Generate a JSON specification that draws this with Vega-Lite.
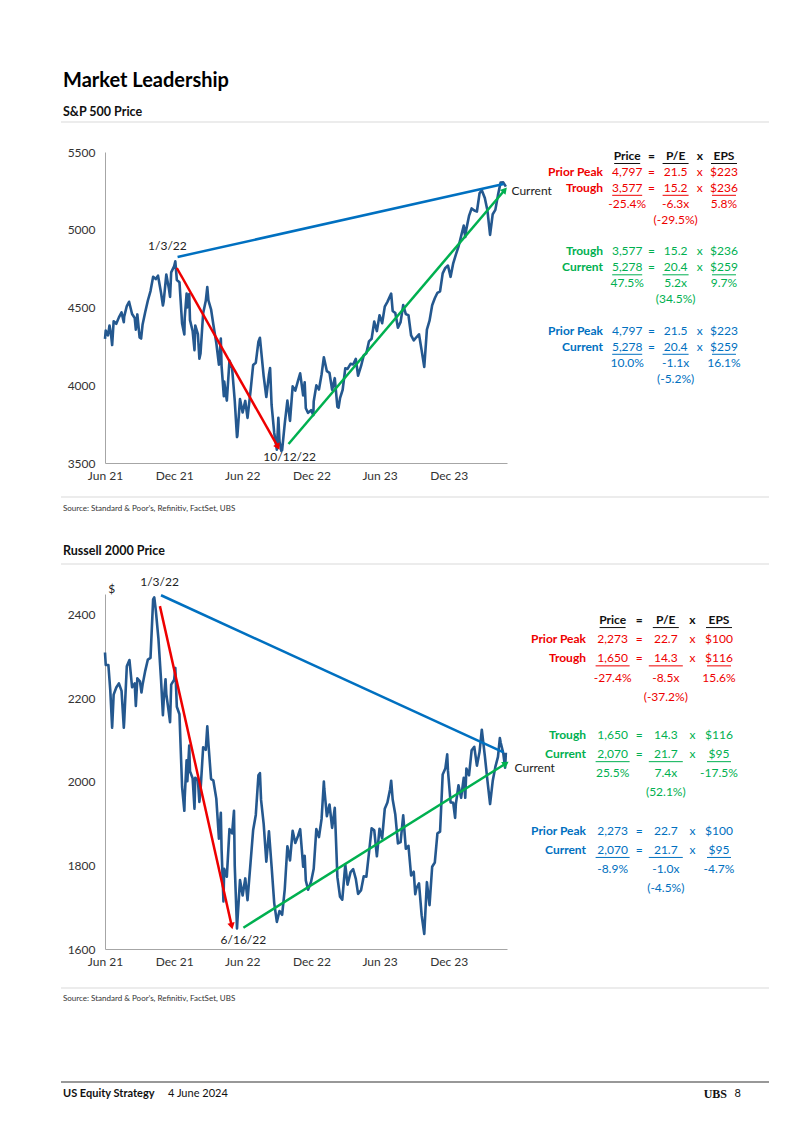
{
  "$schema": "https://vega.github.io/schema/vega-lite/v6.json",
  "background": "white",
  "padding": {"left": 60, "top": 70, "right": 34, "bottom": 20},
  "autosize": {"type": "pad"},
  "title": {"text": "Market Leadership", "anchor": "start", "frame": "group", "dx": -42, "fontSize": 20, "fontWeight": "bold", "font": "Lato", "color": "#000000", "offset": 15},
  "columns": 2,
  "spacing": {"row": 30, "column": 79},
  "align": "each",
  "bounds": "flush",
  "resolve": {"scale": {"color": "independent"}},
  "concat": [
    {
      "width": 402, "height": 1,
      "title": {"text": "S&P 500 Price", "anchor": "start", "frame": "group", "dx": -42, "fontSize": 12.5, "fontWeight": "bold", "font": "Lato", "color": "#111111", "offset": 3},
      "data": {"values": [{}]},
      "mark": {"type": "rule", "color": "#d9d9d9", "strokeWidth": 1, "xOffset": -44, "x2Offset": 262},
      "encoding": {
        "x": {"datum": 0, "type": "quantitative", "scale": {"domain": [0, 1]}, "axis": null},
        "x2": {"datum": 1},
        "y": {"datum": 0, "type": "quantitative", "scale": {"domain": [0, 1]}, "axis": null}
      }
    },
    {
      "width": 1, "height": 1,
      "data": {"values": [{}]},
      "mark": {"type": "text"},
      "encoding": {"text": {"value": ""}}
    },
    {
      "width": 402, "height": 311,
      "encoding": {
        "x": {"field": "date", "type": "temporal", "title": null,
              "scale": {"domain": [{"year": 2021, "month": 6, "date": 30}, {"year": 2024, "month": 6, "date": 3}]},
              "axis": {"values": [{"year": 2021, "month": 6, "date": 30}, {"year": 2021, "month": 12, "date": 31}, {"year": 2022, "month": 6, "date": 30}, {"year": 2022, "month": 12, "date": 31}, {"year": 2023, "month": 6, "date": 30}, {"year": 2023, "month": 12, "date": 31}],
                       "format": "%b %y", "labelFlush": false, "labelPadding": 7, "ticks": false, "grid": false, "domainColor": "#a6a6a6", "labelColor": "#333333", "labelFontSize": 12, "labelFont": "Lato"}},
        "y": {"field": "value", "type": "quantitative", "title": null,
              "scale": {"domain": [3500, 5500], "nice": false, "zero": false},
              "axis": {"values": [3500, 4000, 4500, 5000, 5500], "format": "d", "labelPadding": 10, "ticks": false, "grid": false, "domainColor": "#a6a6a6", "labelColor": "#333333", "labelFontSize": 12, "labelFont": "Lato"}}
      },
      "layer": [
        {"data": {"name": "sp"}, "mark": {"type": "line", "color": "#24588f", "strokeWidth": 2.6, "strokeJoin": "round"}},
        {"data": {"name": "sp_ann"}, "mark": {"type": "line", "strokeWidth": 2.5},
         "encoding": {"detail": {"field": "seg"}, "color": {"field": "seg", "type": "nominal", "scale": {"domain": ["hdr", "pt", "tc", "pc"], "range": ["#111111", "#ee0000", "#00b050", "#0070c0"]}, "legend": null}}},
        {"data": {"name": "sp_ann"}, "transform": [{"filter": "datum.seg === 'pt' && datum.point === 'end'"}],
         "mark": {"type": "point", "shape": "triangle-up", "angle": 150.6, "size": 55, "filled": true, "opacity": 1, "color": "#ee0000"}},
        {"data": {"name": "sp_ann"}, "transform": [{"filter": "datum.seg === 'tc' && datum.point === 'end'"}],
         "mark": {"type": "point", "shape": "triangle-up", "angle": 40.4, "size": 55, "filled": true, "opacity": 1, "color": "#00b050"}},
        {"data": {"name": "sp_lbl"}, "transform": [{"filter": "datum.label !== 'Current'"}],
         "mark": {"type": "text", "align": "center", "baseline": "middle", "fontSize": 12, "font": "Lato", "color": "#222222"},
         "encoding": {"text": {"field": "label"}}},
        {"data": {"name": "sp_lbl"}, "transform": [{"filter": "datum.label === 'Current'"}],
         "mark": {"type": "text", "align": "left", "baseline": "middle", "fontSize": 12, "font": "Lato", "color": "#222222"},
         "encoding": {"text": {"field": "label"}}}
      ]
    },
    {
      "width": 155, "height": 315,
      "data": {"name": "sp_tbl"},
      "encoding": {
        "x": {"field": "col", "type": "nominal", "scale": {"type": "point", "domain": ["label", "price", "eq", "pe", "x", "eps"], "padding": 0.7025}, "axis": null},
        "y": {"field": "row", "type": "ordinal", "scale": {"type": "point", "domain": [0, 1, 2, 3, 4, 5, 6, 7, 8, 9, 10, 11, 12, 13, 14, 15, 16, 17, 18, 19], "padding": 0.406, "align": 0.31}, "axis": null},
        "color": {"field": "grp", "type": "nominal", "scale": {"domain": ["hdr", "pt", "tc", "pc"], "range": ["#111111", "#ee0000", "#00b050", "#0070c0"]}, "legend": null}
      },
      "layer": [
        {"transform": [{"filter": "datum.col === 'label'"}],
         "mark": {"type": "text", "align": "right", "baseline": "middle", "fontSize": 12, "fontWeight": "bold", "font": "Lato"},
         "encoding": {"text": {"field": "text"}}},
        {"transform": [{"filter": "datum.row === 0"}],
         "mark": {"type": "text", "align": "center", "baseline": "middle", "fontSize": 12, "fontWeight": "bold", "font": "Lato"},
         "encoding": {"text": {"field": "text"}}},
        {"transform": [{"filter": "datum.row > 0 && datum.col !== 'label'"}],
         "mark": {"type": "text", "align": "center", "baseline": "middle", "fontSize": 12, "font": "Lato"},
         "encoding": {"text": {"field": "text"}}},
        {"data": {"name": "sp_ul"}, "transform": [{"filter": "datum.row === 0"}],
         "mark": {"type": "rule", "strokeWidth": 1, "xOffset": -13, "x2Offset": 13, "yOffset": 7.5},
         "encoding": {"x2": {"field": "col"}}},
        {"data": {"name": "sp_ul"}, "transform": [{"filter": "datum.row > 0 && datum.col === 'price'"}],
         "mark": {"type": "rule", "strokeWidth": 1, "xOffset": -15, "x2Offset": 15, "yOffset": 7.5},
         "encoding": {"x2": {"field": "col"}}},
        {"data": {"name": "sp_ul"}, "transform": [{"filter": "datum.row > 0 && datum.col === 'pe'"}],
         "mark": {"type": "rule", "strokeWidth": 1, "xOffset": -13, "x2Offset": 13, "yOffset": 7.5},
         "encoding": {"x2": {"field": "col"}}},
        {"data": {"name": "sp_ul"}, "transform": [{"filter": "datum.row > 0 && datum.col === 'eps'"}],
         "mark": {"type": "rule", "strokeWidth": 1, "xOffset": -12, "x2Offset": 12, "yOffset": 7.5},
         "encoding": {"x2": {"field": "col"}}}
      ]
    },
    {
      "width": 402, "height": 67,
      "data": {"values": [{}]},
      "encoding": {
        "x": {"datum": 0, "type": "quantitative", "scale": {"domain": [0, 1]}, "axis": null}
      },
      "layer": [
        {"mark": {"type": "rule", "color": "#d9d9d9", "strokeWidth": 1, "xOffset": -44, "x2Offset": 262},
         "encoding": {"x2": {"datum": 1}, "y": {"datum": 1, "type": "quantitative", "scale": {"domain": [0, 1]}, "axis": null}}},
        {"mark": {"type": "rule", "color": "#d9d9d9", "strokeWidth": 1, "xOffset": -44, "x2Offset": 262},
         "encoding": {"x2": {"datum": 1}, "y": {"datum": 0, "type": "quantitative"}}},
        {"mark": {"type": "text", "align": "left", "baseline": "middle", "dx": -42, "dy": 12, "fontSize": 8, "font": "Lato", "color": "#333333"},
         "encoding": {"y": {"datum": 1, "type": "quantitative"}, "text": {"value": "Source: Standard & Poor’s, Refinitiv, FactSet, UBS"}}},
        {"mark": {"type": "text", "align": "left", "baseline": "middle", "dx": -42, "dy": -13, "fontSize": 12.5, "fontWeight": "bold", "font": "Lato", "color": "#111111"},
         "encoding": {"y": {"datum": 0, "type": "quantitative"}, "text": {"value": "Russell 2000 Price"}}}
      ]
    },
    {
      "width": 1, "height": 1,
      "data": {"values": [{}]},
      "mark": {"type": "text"},
      "encoding": {"text": {"value": ""}}
    },
    {
      "width": 402, "height": 355,
      "encoding": {
        "x": {"field": "date", "type": "temporal", "title": null,
              "scale": {"domain": [{"year": 2021, "month": 6, "date": 30}, {"year": 2024, "month": 6, "date": 3}]},
              "axis": {"values": [{"year": 2021, "month": 6, "date": 30}, {"year": 2021, "month": 12, "date": 31}, {"year": 2022, "month": 6, "date": 30}, {"year": 2022, "month": 12, "date": 31}, {"year": 2023, "month": 6, "date": 30}, {"year": 2023, "month": 12, "date": 31}],
                       "format": "%b %y", "labelFlush": false, "labelPadding": 7, "ticks": false, "grid": false, "domainColor": "#a6a6a6", "labelColor": "#333333", "labelFontSize": 12, "labelFont": "Lato"}},
        "y": {"field": "value", "type": "quantitative", "title": null,
              "scale": {"domain": [1600, 2450], "nice": false, "zero": false},
              "axis": {"values": [1600, 1800, 2000, 2200, 2400], "format": "d", "labelPadding": 10, "ticks": false, "grid": false, "domainColor": "#a6a6a6", "labelColor": "#333333", "labelFontSize": 12, "labelFont": "Lato"}}
      },
      "layer": [
        {"data": {"name": "rut"}, "mark": {"type": "line", "color": "#24588f", "strokeWidth": 2.6, "strokeJoin": "round"}},
        {"data": {"name": "rut_ann"}, "mark": {"type": "line", "strokeWidth": 2.5},
         "encoding": {"detail": {"field": "seg"}, "color": {"field": "seg", "type": "nominal", "scale": {"domain": ["hdr", "pt", "tc", "pc"], "range": ["#111111", "#ee0000", "#00b050", "#0070c0"]}, "legend": null}}},
        {"data": {"name": "rut_ann"}, "transform": [{"filter": "datum.seg === 'pt' && datum.point === 'end'"}],
         "mark": {"type": "point", "shape": "triangle-up", "angle": 167.4, "size": 55, "filled": true, "opacity": 1, "color": "#ee0000"}},
        {"data": {"name": "rut_ann"}, "transform": [{"filter": "datum.seg === 'tc' && datum.point === 'end'"}],
         "mark": {"type": "point", "shape": "triangle-up", "angle": 58, "size": 55, "filled": true, "opacity": 1, "color": "#00b050"}},
        {"data": {"name": "rut_lbl"}, "transform": [{"filter": "datum.label !== 'Current'"}],
         "mark": {"type": "text", "align": "center", "baseline": "middle", "fontSize": 12, "font": "Lato", "color": "#222222"},
         "encoding": {"text": {"field": "label"}}},
        {"data": {"name": "rut_lbl"}, "transform": [{"filter": "datum.label === 'Current'"}],
         "mark": {"type": "text", "align": "left", "baseline": "middle", "fontSize": 12, "font": "Lato", "color": "#222222"},
         "encoding": {"text": {"field": "label"}}}
      ]
    },
    {
      "width": 133, "height": 364,
      "data": {"name": "rut_tbl"},
      "encoding": {
        "x": {"field": "col", "type": "nominal", "scale": {"type": "point", "domain": ["label", "price", "eq", "pe", "x", "eps"], "padding": 0}, "axis": null},
        "y": {"field": "row", "type": "ordinal", "scale": {"type": "point", "domain": [0, 1, 2, 3, 4, 5, 6, 7, 8, 9, 10, 11, 12, 13, 14, 15, 16, 17], "padding": 1, "align": 0.68}, "axis": null},
        "color": {"field": "grp", "type": "nominal", "scale": {"domain": ["hdr", "pt", "tc", "pc"], "range": ["#111111", "#ee0000", "#00b050", "#0070c0"]}, "legend": null}
      },
      "layer": [
        {"transform": [{"filter": "datum.col === 'label'"}],
         "mark": {"type": "text", "align": "right", "baseline": "middle", "fontSize": 12, "fontWeight": "bold", "font": "Lato"},
         "encoding": {"text": {"field": "text"}}},
        {"transform": [{"filter": "datum.row === 0"}],
         "mark": {"type": "text", "align": "center", "baseline": "middle", "fontSize": 12, "fontWeight": "bold", "font": "Lato"},
         "encoding": {"text": {"field": "text"}}},
        {"transform": [{"filter": "datum.row > 0 && datum.col !== 'label'"}],
         "mark": {"type": "text", "align": "center", "baseline": "middle", "fontSize": 12, "font": "Lato"},
         "encoding": {"text": {"field": "text"}}},
        {"data": {"name": "rut_ul"}, "transform": [{"filter": "datum.row === 0"}],
         "mark": {"type": "rule", "strokeWidth": 1, "xOffset": -13, "x2Offset": 13, "yOffset": 7.5},
         "encoding": {"x2": {"field": "col"}}},
        {"data": {"name": "rut_ul"}, "transform": [{"filter": "datum.row > 0 && datum.col !== 'eps'"}],
         "mark": {"type": "rule", "strokeWidth": 1, "xOffset": -17, "x2Offset": 17, "yOffset": 7.5},
         "encoding": {"x2": {"field": "col"}}},
        {"data": {"name": "rut_ul"}, "transform": [{"filter": "datum.row > 0 && datum.col === 'eps'"}],
         "mark": {"type": "rule", "strokeWidth": 1, "xOffset": -12, "x2Offset": 12, "yOffset": 7.5},
         "encoding": {"x2": {"field": "col"}}}
      ]
    },
    {
      "width": 402, "height": 94,
      "data": {"values": [{}]},
      "encoding": {
        "x": {"datum": 0, "type": "quantitative", "scale": {"domain": [0, 1]}, "axis": null}
      },
      "layer": [
        {"mark": {"type": "rule", "color": "#d9d9d9", "strokeWidth": 1, "xOffset": -44, "x2Offset": 262},
         "encoding": {"x2": {"datum": 1}, "y": {"datum": 1, "type": "quantitative", "scale": {"domain": [0, 1]}, "axis": null}}},
        {"mark": {"type": "rule", "color": "#333333", "strokeWidth": 1.2, "xOffset": -44, "x2Offset": 262},
         "encoding": {"x2": {"datum": 1}, "y": {"datum": 0, "type": "quantitative"}}},
        {"mark": {"type": "text", "align": "left", "baseline": "middle", "dx": -42, "dy": 11, "fontSize": 8, "font": "Lato", "color": "#333333"},
         "encoding": {"y": {"datum": 1, "type": "quantitative"}, "text": {"value": "Source: Standard & Poor’s, Refinitiv, FactSet, UBS"}}},
        {"mark": {"type": "text", "align": "left", "baseline": "middle", "dx": -42, "dy": 12, "fontSize": 11, "fontWeight": "bold", "font": "Lato", "color": "#111111"},
         "encoding": {"y": {"datum": 0, "type": "quantitative"}, "text": {"value": "US Equity Strategy"}}},
        {"mark": {"type": "text", "align": "left", "baseline": "middle", "dx": 63, "dy": 12, "fontSize": 11, "font": "Lato", "color": "#111111"},
         "encoding": {"y": {"datum": 0, "type": "quantitative"}, "text": {"value": "4 June 2024"}}}
      ]
    },
    {
      "width": 155, "height": 94,
      "data": {"values": [{}]},
      "encoding": {
        "x": {"datum": 1, "type": "quantitative", "scale": {"domain": [0, 1]}, "axis": null},
        "y": {"datum": 0, "type": "quantitative", "scale": {"domain": [0, 1]}, "axis": null}
      },
      "layer": [
        {"mark": {"type": "text", "align": "right", "baseline": "middle", "dx": -14, "dy": 12, "fontSize": 12, "font": "Liberation Serif", "fontWeight": "bold", "color": "#111111"},
         "encoding": {"text": {"value": "UBS"}}},
        {"mark": {"type": "text", "align": "right", "baseline": "middle", "dx": 0, "dy": 12, "fontSize": 11, "font": "Lato", "color": "#111111"},
         "encoding": {"text": {"value": "8"}}}
      ]
    }
  ],
  "datasets": {
    "sp": [
      {"date": "2021-06-30", "value": 4297.5}, {"date": "2021-07-02", "value": 4352.3}, {"date": "2021-07-08", "value": 4320.8}, {"date": "2021-07-12", "value": 4384.6},
      {"date": "2021-07-16", "value": 4327.2}, {"date": "2021-07-19", "value": 4258.5}, {"date": "2021-07-23", "value": 4411.8}, {"date": "2021-07-30", "value": 4395.3},
      {"date": "2021-08-06", "value": 4436.5}, {"date": "2021-08-13", "value": 4468.0}, {"date": "2021-08-19", "value": 4405.8}, {"date": "2021-08-20", "value": 4441.7},
      {"date": "2021-08-27", "value": 4509.4}, {"date": "2021-09-02", "value": 4537.0}, {"date": "2021-09-10", "value": 4458.6}, {"date": "2021-09-17", "value": 4433.0},
      {"date": "2021-09-20", "value": 4357.7}, {"date": "2021-09-24", "value": 4455.5}, {"date": "2021-09-30", "value": 4307.5}, {"date": "2021-10-04", "value": 4300.5},
      {"date": "2021-10-08", "value": 4391.3}, {"date": "2021-10-15", "value": 4471.4}, {"date": "2021-10-22", "value": 4544.9}, {"date": "2021-10-29", "value": 4605.4},
      {"date": "2021-11-05", "value": 4697.5}, {"date": "2021-11-12", "value": 4682.9}, {"date": "2021-11-18", "value": 4704.5}, {"date": "2021-11-26", "value": 4594.6},
      {"date": "2021-12-01", "value": 4513.0}, {"date": "2021-12-03", "value": 4538.4}, {"date": "2021-12-10", "value": 4712.0}, {"date": "2021-12-17", "value": 4620.6},
      {"date": "2021-12-20", "value": 4568.0}, {"date": "2021-12-23", "value": 4725.8}, {"date": "2021-12-31", "value": 4766.2}, {"date": "2022-01-03", "value": 4796.6},
      {"date": "2022-01-07", "value": 4677.0}, {"date": "2022-01-14", "value": 4662.9}, {"date": "2022-01-21", "value": 4397.9}, {"date": "2022-01-27", "value": 4326.5},
      {"date": "2022-01-28", "value": 4431.9}, {"date": "2022-02-02", "value": 4589.4}, {"date": "2022-02-04", "value": 4500.5}, {"date": "2022-02-09", "value": 4587.2},
      {"date": "2022-02-11", "value": 4418.6}, {"date": "2022-02-18", "value": 4348.9}, {"date": "2022-02-23", "value": 4225.5}, {"date": "2022-02-25", "value": 4384.7},
      {"date": "2022-03-04", "value": 4328.9}, {"date": "2022-03-08", "value": 4170.7}, {"date": "2022-03-11", "value": 4204.3}, {"date": "2022-03-18", "value": 4463.1},
      {"date": "2022-03-25", "value": 4543.1}, {"date": "2022-03-29", "value": 4631.6}, {"date": "2022-04-01", "value": 4545.9}, {"date": "2022-04-08", "value": 4488.3},
      {"date": "2022-04-14", "value": 4392.6}, {"date": "2022-04-22", "value": 4271.8}, {"date": "2022-04-29", "value": 4131.9}, {"date": "2022-05-04", "value": 4300.2},
      {"date": "2022-05-06", "value": 4123.3}, {"date": "2022-05-12", "value": 3930.1}, {"date": "2022-05-13", "value": 4023.9}, {"date": "2022-05-20", "value": 3901.4},
      {"date": "2022-05-27", "value": 4158.2}, {"date": "2022-06-03", "value": 4108.5}, {"date": "2022-06-10", "value": 3900.9}, {"date": "2022-06-16", "value": 3666.8},
      {"date": "2022-06-17", "value": 3674.8}, {"date": "2022-06-24", "value": 3911.7}, {"date": "2022-07-01", "value": 3825.3}, {"date": "2022-07-08", "value": 3899.4},
      {"date": "2022-07-14", "value": 3790.4}, {"date": "2022-07-22", "value": 3961.6}, {"date": "2022-07-29", "value": 4130.3}, {"date": "2022-08-05", "value": 4145.2},
      {"date": "2022-08-12", "value": 4280.2}, {"date": "2022-08-16", "value": 4305.2}, {"date": "2022-08-19", "value": 4228.5}, {"date": "2022-08-26", "value": 4057.7},
      {"date": "2022-09-02", "value": 3924.3}, {"date": "2022-09-09", "value": 4067.4}, {"date": "2022-09-12", "value": 4110.4}, {"date": "2022-09-16", "value": 3873.3},
      {"date": "2022-09-23", "value": 3693.2}, {"date": "2022-09-30", "value": 3585.6}, {"date": "2022-10-04", "value": 3790.9}, {"date": "2022-10-07", "value": 3639.7},
      {"date": "2022-10-12", "value": 3577.0}, {"date": "2022-10-14", "value": 3583.1}, {"date": "2022-10-21", "value": 3752.8}, {"date": "2022-10-28", "value": 3901.1},
      {"date": "2022-11-04", "value": 3770.6}, {"date": "2022-11-11", "value": 3992.9}, {"date": "2022-11-18", "value": 3965.3}, {"date": "2022-11-25", "value": 4026.1},
      {"date": "2022-12-01", "value": 4076.6}, {"date": "2022-12-09", "value": 3934.4}, {"date": "2022-12-13", "value": 4019.7}, {"date": "2022-12-16", "value": 3852.4},
      {"date": "2022-12-22", "value": 3822.4}, {"date": "2022-12-30", "value": 3839.5}, {"date": "2023-01-05", "value": 3808.1}, {"date": "2023-01-06", "value": 3895.1},
      {"date": "2023-01-13", "value": 3999.1}, {"date": "2023-01-20", "value": 3972.6}, {"date": "2023-01-27", "value": 4070.6}, {"date": "2023-02-02", "value": 4179.8},
      {"date": "2023-02-10", "value": 4090.5}, {"date": "2023-02-17", "value": 4079.1}, {"date": "2023-02-24", "value": 3970.0}, {"date": "2023-03-03", "value": 4045.6},
      {"date": "2023-03-10", "value": 3861.6}, {"date": "2023-03-13", "value": 3855.8}, {"date": "2023-03-17", "value": 3916.6}, {"date": "2023-03-24", "value": 3971.0},
      {"date": "2023-03-31", "value": 4109.3}, {"date": "2023-04-06", "value": 4105.0}, {"date": "2023-04-14", "value": 4137.6}, {"date": "2023-04-21", "value": 4133.5},
      {"date": "2023-04-28", "value": 4169.5}, {"date": "2023-05-04", "value": 4061.2}, {"date": "2023-05-12", "value": 4124.1}, {"date": "2023-05-19", "value": 4192.0},
      {"date": "2023-05-26", "value": 4205.5}, {"date": "2023-06-02", "value": 4282.4}, {"date": "2023-06-09", "value": 4298.9}, {"date": "2023-06-16", "value": 4409.6},
      {"date": "2023-06-23", "value": 4348.3}, {"date": "2023-06-30", "value": 4450.4}, {"date": "2023-07-07", "value": 4399.0}, {"date": "2023-07-14", "value": 4505.4},
      {"date": "2023-07-21", "value": 4536.3}, {"date": "2023-07-31", "value": 4589.0}, {"date": "2023-08-04", "value": 4478.0}, {"date": "2023-08-11", "value": 4464.1},
      {"date": "2023-08-18", "value": 4369.7}, {"date": "2023-08-25", "value": 4405.7}, {"date": "2023-09-01", "value": 4515.8}, {"date": "2023-09-08", "value": 4457.5},
      {"date": "2023-09-15", "value": 4450.3}, {"date": "2023-09-22", "value": 4320.1}, {"date": "2023-09-29", "value": 4288.1}, {"date": "2023-10-06", "value": 4308.5},
      {"date": "2023-10-13", "value": 4327.8}, {"date": "2023-10-20", "value": 4224.2}, {"date": "2023-10-27", "value": 4117.4}, {"date": "2023-11-03", "value": 4358.3},
      {"date": "2023-11-10", "value": 4415.2}, {"date": "2023-11-17", "value": 4514.0}, {"date": "2023-11-24", "value": 4559.3}, {"date": "2023-12-01", "value": 4594.6},
      {"date": "2023-12-08", "value": 4604.4}, {"date": "2023-12-15", "value": 4719.2}, {"date": "2023-12-22", "value": 4754.6}, {"date": "2023-12-29", "value": 4769.8},
      {"date": "2024-01-05", "value": 4697.2}, {"date": "2024-01-12", "value": 4783.8}, {"date": "2024-01-19", "value": 4839.8}, {"date": "2024-01-26", "value": 4891.0},
      {"date": "2024-02-02", "value": 4958.6}, {"date": "2024-02-09", "value": 5026.6}, {"date": "2024-02-13", "value": 4953.2}, {"date": "2024-02-16", "value": 5005.6},
      {"date": "2024-02-23", "value": 5088.8}, {"date": "2024-03-01", "value": 5137.1}, {"date": "2024-03-08", "value": 5123.7}, {"date": "2024-03-15", "value": 5117.1},
      {"date": "2024-03-22", "value": 5234.2}, {"date": "2024-03-28", "value": 5254.4}, {"date": "2024-04-05", "value": 5204.3}, {"date": "2024-04-12", "value": 5123.4},
      {"date": "2024-04-19", "value": 4967.2}, {"date": "2024-04-26", "value": 5100.0}, {"date": "2024-05-03", "value": 5127.8}, {"date": "2024-05-10", "value": 5222.7},
      {"date": "2024-05-17", "value": 5303.3}, {"date": "2024-05-24", "value": 5304.7}, {"date": "2024-05-31", "value": 5277.5}
    ],
    "rut": [
      {"date": "2021-06-30", "value": 2310}, {"date": "2021-07-02", "value": 2280}, {"date": "2021-07-09", "value": 2280}, {"date": "2021-07-14", "value": 2220},
      {"date": "2021-07-19", "value": 2130}, {"date": "2021-07-23", "value": 2209}, {"date": "2021-07-30", "value": 2226}, {"date": "2021-08-06", "value": 2236},
      {"date": "2021-08-13", "value": 2218}, {"date": "2021-08-19", "value": 2130}, {"date": "2021-08-20", "value": 2144}, {"date": "2021-08-27", "value": 2277},
      {"date": "2021-09-03", "value": 2292}, {"date": "2021-09-10", "value": 2227}, {"date": "2021-09-17", "value": 2236}, {"date": "2021-09-20", "value": 2182},
      {"date": "2021-09-24", "value": 2248}, {"date": "2021-10-01", "value": 2241}, {"date": "2021-10-05", "value": 2214}, {"date": "2021-10-08", "value": 2233},
      {"date": "2021-10-15", "value": 2266}, {"date": "2021-10-22", "value": 2293}, {"date": "2021-10-29", "value": 2297}, {"date": "2021-11-05", "value": 2437},
      {"date": "2021-11-08", "value": 2442}, {"date": "2021-11-12", "value": 2412}, {"date": "2021-11-19", "value": 2344}, {"date": "2021-11-26", "value": 2245},
      {"date": "2021-12-01", "value": 2160}, {"date": "2021-12-03", "value": 2193}, {"date": "2021-12-08", "value": 2246}, {"date": "2021-12-10", "value": 2211},
      {"date": "2021-12-17", "value": 2164}, {"date": "2021-12-20", "value": 2143}, {"date": "2021-12-23", "value": 2233}, {"date": "2021-12-31", "value": 2245},
      {"date": "2022-01-03", "value": 2273}, {"date": "2022-01-07", "value": 2180}, {"date": "2022-01-14", "value": 2162}, {"date": "2022-01-21", "value": 1988},
      {"date": "2022-01-27", "value": 1931}, {"date": "2022-01-28", "value": 1963}, {"date": "2022-02-02", "value": 2052}, {"date": "2022-02-04", "value": 2002},
      {"date": "2022-02-09", "value": 2087}, {"date": "2022-02-11", "value": 2026}, {"date": "2022-02-18", "value": 2009}, {"date": "2022-02-23", "value": 1936},
      {"date": "2022-02-25", "value": 2010}, {"date": "2022-03-04", "value": 2004}, {"date": "2022-03-08", "value": 1952}, {"date": "2022-03-11", "value": 1979},
      {"date": "2022-03-18", "value": 2083}, {"date": "2022-03-25", "value": 2077}, {"date": "2022-03-29", "value": 2133}, {"date": "2022-04-01", "value": 2092},
      {"date": "2022-04-08", "value": 2007}, {"date": "2022-04-14", "value": 2004}, {"date": "2022-04-22", "value": 1960}, {"date": "2022-04-29", "value": 1864},
      {"date": "2022-05-04", "value": 1926}, {"date": "2022-05-06", "value": 1839}, {"date": "2022-05-11", "value": 1714}, {"date": "2022-05-13", "value": 1792},
      {"date": "2022-05-20", "value": 1773}, {"date": "2022-05-27", "value": 1887}, {"date": "2022-06-03", "value": 1877}, {"date": "2022-06-08", "value": 1931},
      {"date": "2022-06-10", "value": 1800}, {"date": "2022-06-16", "value": 1649}, {"date": "2022-06-17", "value": 1665}, {"date": "2022-06-24", "value": 1765},
      {"date": "2022-07-01", "value": 1728}, {"date": "2022-07-08", "value": 1769}, {"date": "2022-07-14", "value": 1717}, {"date": "2022-07-22", "value": 1806},
      {"date": "2022-07-29", "value": 1885}, {"date": "2022-08-05", "value": 1921}, {"date": "2022-08-12", "value": 2016}, {"date": "2022-08-16", "value": 2021},
      {"date": "2022-08-19", "value": 1957}, {"date": "2022-08-26", "value": 1899}, {"date": "2022-09-02", "value": 1809}, {"date": "2022-09-09", "value": 1882},
      {"date": "2022-09-16", "value": 1798}, {"date": "2022-09-23", "value": 1710}, {"date": "2022-09-30", "value": 1665}, {"date": "2022-10-07", "value": 1691},
      {"date": "2022-10-14", "value": 1682}, {"date": "2022-10-21", "value": 1743}, {"date": "2022-10-28", "value": 1846}, {"date": "2022-11-04", "value": 1812},
      {"date": "2022-11-11", "value": 1883}, {"date": "2022-11-18", "value": 1854}, {"date": "2022-11-25", "value": 1870}, {"date": "2022-12-01", "value": 1887},
      {"date": "2022-12-09", "value": 1797}, {"date": "2022-12-13", "value": 1823}, {"date": "2022-12-16", "value": 1764}, {"date": "2022-12-22", "value": 1742},
      {"date": "2022-12-30", "value": 1761}, {"date": "2023-01-06", "value": 1792}, {"date": "2023-01-13", "value": 1887}, {"date": "2023-01-20", "value": 1868},
      {"date": "2023-01-27", "value": 1912}, {"date": "2023-02-02", "value": 2001}, {"date": "2023-02-03", "value": 1985}, {"date": "2023-02-10", "value": 1918},
      {"date": "2023-02-17", "value": 1946}, {"date": "2023-02-24", "value": 1890}, {"date": "2023-03-03", "value": 1938}, {"date": "2023-03-10", "value": 1772},
      {"date": "2023-03-17", "value": 1725}, {"date": "2023-03-23", "value": 1718}, {"date": "2023-03-31", "value": 1802}, {"date": "2023-04-06", "value": 1754},
      {"date": "2023-04-14", "value": 1784}, {"date": "2023-04-21", "value": 1791}, {"date": "2023-04-28", "value": 1768}, {"date": "2023-05-04", "value": 1732},
      {"date": "2023-05-12", "value": 1741}, {"date": "2023-05-19", "value": 1774}, {"date": "2023-05-26", "value": 1773}, {"date": "2023-06-02", "value": 1830},
      {"date": "2023-06-09", "value": 1889}, {"date": "2023-06-16", "value": 1884}, {"date": "2023-06-23", "value": 1822}, {"date": "2023-06-30", "value": 1888},
      {"date": "2023-07-07", "value": 1865}, {"date": "2023-07-14", "value": 1936}, {"date": "2023-07-21", "value": 1951}, {"date": "2023-07-28", "value": 1982},
      {"date": "2023-07-31", "value": 2003}, {"date": "2023-08-04", "value": 1958}, {"date": "2023-08-11", "value": 1922}, {"date": "2023-08-18", "value": 1853},
      {"date": "2023-08-25", "value": 1856}, {"date": "2023-09-01", "value": 1920}, {"date": "2023-09-08", "value": 1840}, {"date": "2023-09-15", "value": 1847},
      {"date": "2023-09-22", "value": 1776}, {"date": "2023-09-29", "value": 1785}, {"date": "2023-10-03", "value": 1731}, {"date": "2023-10-06", "value": 1745},
      {"date": "2023-10-13", "value": 1757}, {"date": "2023-10-20", "value": 1681}, {"date": "2023-10-27", "value": 1636}, {"date": "2023-11-03", "value": 1760},
      {"date": "2023-11-10", "value": 1705}, {"date": "2023-11-17", "value": 1797}, {"date": "2023-11-24", "value": 1807}, {"date": "2023-12-01", "value": 1877},
      {"date": "2023-12-08", "value": 1881}, {"date": "2023-12-15", "value": 2018}, {"date": "2023-12-22", "value": 2032}, {"date": "2023-12-27", "value": 2066},
      {"date": "2023-12-29", "value": 2027}, {"date": "2024-01-05", "value": 1951}, {"date": "2024-01-12", "value": 1950}, {"date": "2024-01-17", "value": 1914},
      {"date": "2024-01-19", "value": 1947}, {"date": "2024-01-26", "value": 1992}, {"date": "2024-02-02", "value": 1962}, {"date": "2024-02-09", "value": 2010},
      {"date": "2024-02-13", "value": 1962}, {"date": "2024-02-16", "value": 2032}, {"date": "2024-02-23", "value": 2016}, {"date": "2024-03-01", "value": 2076},
      {"date": "2024-03-08", "value": 2084}, {"date": "2024-03-15", "value": 2039}, {"date": "2024-03-22", "value": 2072}, {"date": "2024-03-28", "value": 2125},
      {"date": "2024-04-05", "value": 2063}, {"date": "2024-04-12", "value": 2003}, {"date": "2024-04-19", "value": 1947}, {"date": "2024-04-26", "value": 2002},
      {"date": "2024-05-03", "value": 2036}, {"date": "2024-05-10", "value": 2060}, {"date": "2024-05-15", "value": 2105}, {"date": "2024-05-17", "value": 2095},
      {"date": "2024-05-24", "value": 2069}, {"date": "2024-05-29", "value": 2034}, {"date": "2024-05-31", "value": 2070}
    ],
    "sp_ann": [
      {"seg": "pc", "point": "start", "date": "2022-01-09", "value": 4825},
      {"seg": "pc", "point": "end", "date": "2024-05-25", "value": 5294},
      {"seg": "pt", "point": "start", "date": "2022-01-07", "value": 4754},
      {"seg": "pt", "point": "end", "date": "2022-10-03", "value": 3603},
      {"seg": "tc", "point": "start", "date": "2022-10-31", "value": 3622},
      {"seg": "tc", "point": "end", "date": "2024-05-28", "value": 5256}
    ],
    "rut_ann": [
      {"seg": "pc", "point": "start", "date": "2021-11-26", "value": 2447},
      {"seg": "pc", "point": "end", "date": "2024-05-25", "value": 2071},
      {"seg": "pt", "point": "start", "date": "2021-11-23", "value": 2421},
      {"seg": "pt", "point": "end", "date": "2022-06-02", "value": 1655},
      {"seg": "tc", "point": "start", "date": "2022-07-03", "value": 1651},
      {"seg": "tc", "point": "end", "date": "2024-05-31", "value": 2044}
    ],
    "sp_lbl": [
      {"label": "1/3/22", "date": "2021-12-13", "value": 4895},
      {"label": "10/12/22", "date": "2022-11-03", "value": 3539},
      {"label": "Current", "date": "2024-06-15", "value": 5249}
    ],
    "rut_lbl": [
      {"label": "1/3/22", "date": "2021-11-22", "value": 2479},
      {"label": "$", "date": "2021-07-18", "value": 2462},
      {"label": "6/16/22", "date": "2022-07-03", "value": 1622},
      {"label": "Current", "date": "2024-06-23", "value": 2034}
    ],
    "sp_tbl": [
      {"row": 0, "col": "price", "text": "Price", "grp": "hdr"}, {"row": 0, "col": "eq", "text": "=", "grp": "hdr"}, {"row": 0, "col": "pe", "text": "P/E", "grp": "hdr"}, {"row": 0, "col": "x", "text": "x", "grp": "hdr"}, {"row": 0, "col": "eps", "text": "EPS", "grp": "hdr"},
      {"row": 1, "col": "label", "text": "Prior Peak", "grp": "pt"}, {"row": 1, "col": "price", "text": "4,797", "grp": "pt"}, {"row": 1, "col": "eq", "text": "=", "grp": "pt"}, {"row": 1, "col": "pe", "text": "21.5", "grp": "pt"}, {"row": 1, "col": "x", "text": "x", "grp": "pt"}, {"row": 1, "col": "eps", "text": "$223", "grp": "pt"},
      {"row": 2, "col": "label", "text": "Trough", "grp": "pt"}, {"row": 2, "col": "price", "text": "3,577", "grp": "pt"}, {"row": 2, "col": "eq", "text": "=", "grp": "pt"}, {"row": 2, "col": "pe", "text": "15.2", "grp": "pt"}, {"row": 2, "col": "x", "text": "x", "grp": "pt"}, {"row": 2, "col": "eps", "text": "$236", "grp": "pt"},
      {"row": 3, "col": "price", "text": "-25.4%", "grp": "pt"}, {"row": 3, "col": "pe", "text": "-6.3x", "grp": "pt"}, {"row": 3, "col": "eps", "text": "5.8%", "grp": "pt"},
      {"row": 4, "col": "pe", "text": "(-29.5%)", "grp": "pt"},
      {"row": 6, "col": "label", "text": "Trough", "grp": "tc"}, {"row": 6, "col": "price", "text": "3,577", "grp": "tc"}, {"row": 6, "col": "eq", "text": "=", "grp": "tc"}, {"row": 6, "col": "pe", "text": "15.2", "grp": "tc"}, {"row": 6, "col": "x", "text": "x", "grp": "tc"}, {"row": 6, "col": "eps", "text": "$236", "grp": "tc"},
      {"row": 7, "col": "label", "text": "Current", "grp": "tc"}, {"row": 7, "col": "price", "text": "5,278", "grp": "tc"}, {"row": 7, "col": "eq", "text": "=", "grp": "tc"}, {"row": 7, "col": "pe", "text": "20.4", "grp": "tc"}, {"row": 7, "col": "x", "text": "x", "grp": "tc"}, {"row": 7, "col": "eps", "text": "$259", "grp": "tc"},
      {"row": 8, "col": "price", "text": "47.5%", "grp": "tc"}, {"row": 8, "col": "pe", "text": "5.2x", "grp": "tc"}, {"row": 8, "col": "eps", "text": "9.7%", "grp": "tc"},
      {"row": 9, "col": "pe", "text": "(34.5%)", "grp": "tc"},
      {"row": 11, "col": "label", "text": "Prior Peak", "grp": "pc"}, {"row": 11, "col": "price", "text": "4,797", "grp": "pc"}, {"row": 11, "col": "eq", "text": "=", "grp": "pc"}, {"row": 11, "col": "pe", "text": "21.5", "grp": "pc"}, {"row": 11, "col": "x", "text": "x", "grp": "pc"}, {"row": 11, "col": "eps", "text": "$223", "grp": "pc"},
      {"row": 12, "col": "label", "text": "Current", "grp": "pc"}, {"row": 12, "col": "price", "text": "5,278", "grp": "pc"}, {"row": 12, "col": "eq", "text": "=", "grp": "pc"}, {"row": 12, "col": "pe", "text": "20.4", "grp": "pc"}, {"row": 12, "col": "x", "text": "x", "grp": "pc"}, {"row": 12, "col": "eps", "text": "$259", "grp": "pc"},
      {"row": 13, "col": "price", "text": "10.0%", "grp": "pc"}, {"row": 13, "col": "pe", "text": "-1.1x", "grp": "pc"}, {"row": 13, "col": "eps", "text": "16.1%", "grp": "pc"},
      {"row": 14, "col": "pe", "text": "(-5.2%)", "grp": "pc"}
    ],
    "sp_ul": [
      {"row": 0, "col": "price", "grp": "hdr"}, {"row": 0, "col": "pe", "grp": "hdr"}, {"row": 0, "col": "eps", "grp": "hdr"},
      {"row": 2, "col": "price", "grp": "pt"}, {"row": 2, "col": "pe", "grp": "pt"}, {"row": 2, "col": "eps", "grp": "pt"},
      {"row": 7, "col": "price", "grp": "tc"}, {"row": 7, "col": "pe", "grp": "tc"}, {"row": 7, "col": "eps", "grp": "tc"},
      {"row": 12, "col": "price", "grp": "pc"}, {"row": 12, "col": "pe", "grp": "pc"}, {"row": 12, "col": "eps", "grp": "pc"}
    ],
    "rut_tbl": [
      {"row": 0, "col": "price", "text": "Price", "grp": "hdr"}, {"row": 0, "col": "eq", "text": "=", "grp": "hdr"}, {"row": 0, "col": "pe", "text": "P/E", "grp": "hdr"}, {"row": 0, "col": "x", "text": "x", "grp": "hdr"}, {"row": 0, "col": "eps", "text": "EPS", "grp": "hdr"},
      {"row": 1, "col": "label", "text": "Prior Peak", "grp": "pt"}, {"row": 1, "col": "price", "text": "2,273", "grp": "pt"}, {"row": 1, "col": "eq", "text": "=", "grp": "pt"}, {"row": 1, "col": "pe", "text": "22.7", "grp": "pt"}, {"row": 1, "col": "x", "text": "x", "grp": "pt"}, {"row": 1, "col": "eps", "text": "$100", "grp": "pt"},
      {"row": 2, "col": "label", "text": "Trough", "grp": "pt"}, {"row": 2, "col": "price", "text": "1,650", "grp": "pt"}, {"row": 2, "col": "eq", "text": "=", "grp": "pt"}, {"row": 2, "col": "pe", "text": "14.3", "grp": "pt"}, {"row": 2, "col": "x", "text": "x", "grp": "pt"}, {"row": 2, "col": "eps", "text": "$116", "grp": "pt"},
      {"row": 3, "col": "price", "text": "-27.4%", "grp": "pt"}, {"row": 3, "col": "pe", "text": "-8.5x", "grp": "pt"}, {"row": 3, "col": "eps", "text": "15.6%", "grp": "pt"},
      {"row": 4, "col": "pe", "text": "(-37.2%)", "grp": "pt"},
      {"row": 6, "col": "label", "text": "Trough", "grp": "tc"}, {"row": 6, "col": "price", "text": "1,650", "grp": "tc"}, {"row": 6, "col": "eq", "text": "=", "grp": "tc"}, {"row": 6, "col": "pe", "text": "14.3", "grp": "tc"}, {"row": 6, "col": "x", "text": "x", "grp": "tc"}, {"row": 6, "col": "eps", "text": "$116", "grp": "tc"},
      {"row": 7, "col": "label", "text": "Current", "grp": "tc"}, {"row": 7, "col": "price", "text": "2,070", "grp": "tc"}, {"row": 7, "col": "eq", "text": "=", "grp": "tc"}, {"row": 7, "col": "pe", "text": "21.7", "grp": "tc"}, {"row": 7, "col": "x", "text": "x", "grp": "tc"}, {"row": 7, "col": "eps", "text": "$95", "grp": "tc"},
      {"row": 8, "col": "price", "text": "25.5%", "grp": "tc"}, {"row": 8, "col": "pe", "text": "7.4x", "grp": "tc"}, {"row": 8, "col": "eps", "text": "-17.5%", "grp": "tc"},
      {"row": 9, "col": "pe", "text": "(52.1%)", "grp": "tc"},
      {"row": 11, "col": "label", "text": "Prior Peak", "grp": "pc"}, {"row": 11, "col": "price", "text": "2,273", "grp": "pc"}, {"row": 11, "col": "eq", "text": "=", "grp": "pc"}, {"row": 11, "col": "pe", "text": "22.7", "grp": "pc"}, {"row": 11, "col": "x", "text": "x", "grp": "pc"}, {"row": 11, "col": "eps", "text": "$100", "grp": "pc"},
      {"row": 12, "col": "label", "text": "Current", "grp": "pc"}, {"row": 12, "col": "price", "text": "2,070", "grp": "pc"}, {"row": 12, "col": "eq", "text": "=", "grp": "pc"}, {"row": 12, "col": "pe", "text": "21.7", "grp": "pc"}, {"row": 12, "col": "x", "text": "x", "grp": "pc"}, {"row": 12, "col": "eps", "text": "$95", "grp": "pc"},
      {"row": 13, "col": "price", "text": "-8.9%", "grp": "pc"}, {"row": 13, "col": "pe", "text": "-1.0x", "grp": "pc"}, {"row": 13, "col": "eps", "text": "-4.7%", "grp": "pc"},
      {"row": 14, "col": "pe", "text": "(-4.5%)", "grp": "pc"}
    ],
    "rut_ul": [
      {"row": 0, "col": "price", "grp": "hdr"}, {"row": 0, "col": "pe", "grp": "hdr"}, {"row": 0, "col": "eps", "grp": "hdr"},
      {"row": 2, "col": "price", "grp": "pt"}, {"row": 2, "col": "pe", "grp": "pt"}, {"row": 2, "col": "eps", "grp": "pt"},
      {"row": 7, "col": "price", "grp": "tc"}, {"row": 7, "col": "pe", "grp": "tc"}, {"row": 7, "col": "eps", "grp": "tc"},
      {"row": 12, "col": "price", "grp": "pc"}, {"row": 12, "col": "pe", "grp": "pc"}, {"row": 12, "col": "eps", "grp": "pc"}
    ]
  },
  "config": {
    "view": {"stroke": null},
    "font": "Lato",
    "axis": {"labelFont": "Lato"}
  }
}
